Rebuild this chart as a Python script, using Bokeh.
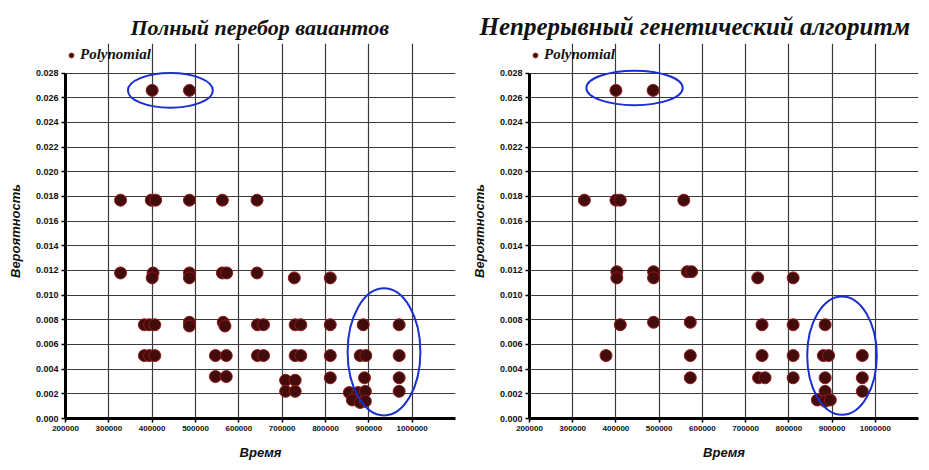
from bokeh.plotting import figure
from bokeh.layouts import row
from bokeh.models import (Range1d, FixedTicker, NumeralTickFormatter, Legend, LegendItem,
                          ColumnDataSource)
from bokeh.embed import file_html
from bokeh.resources import INLINE

# ---------------- data ----------------
titles = ["Полный перебор ваиантов", "Непрерывный генетический алгоритм"]
x_label = "Время"
y_label = "Вероятность"
series_name = "Polynomial"

x_ticks = [200000, 300000, 400000, 500000, 600000, 700000, 800000, 900000, 1000000]
x_grid = x_ticks + [1100000]
y_ticks = [0.000, 0.002, 0.004, 0.006, 0.008, 0.010, 0.012, 0.014, 0.016, 0.018,
           0.020, 0.022, 0.024, 0.026, 0.028]

# Left panel: full enumeration
left_x = [400000, 486000,
          327000, 398000, 408000, 486000, 562000, 642000,
          327000, 402000, 400000, 486000, 486000, 562000, 572000, 642000, 728000, 811000,
          382000, 394000, 406000, 486000, 486000, 564000, 568000, 643000, 657000, 730000, 743000, 811000, 887000, 970000,
          382000, 394000, 406000, 546000, 571000, 643000, 657000, 730000, 743000, 811000, 880000, 893000, 970000,
          546000, 571000, 708000, 730000, 708000, 730000, 811000, 890000, 970000,
          855000, 875000, 892000, 862000, 880000, 892000, 970000]
left_y = [0.0266, 0.0266,
          0.0177, 0.0177, 0.0177, 0.0177, 0.0177, 0.0177,
          0.0118, 0.0118, 0.0114, 0.0118, 0.0114, 0.0118, 0.0118, 0.0118, 0.0114, 0.0114,
          0.0076, 0.0076, 0.0076, 0.0078, 0.0075, 0.0078, 0.0075, 0.0076, 0.0076, 0.0076, 0.0076, 0.0076, 0.0076, 0.0076,
          0.0051, 0.0051, 0.0051, 0.0051, 0.0051, 0.0051, 0.0051, 0.0051, 0.0051, 0.0051, 0.0051, 0.0051, 0.0051,
          0.0034, 0.0034, 0.0031, 0.0031, 0.0022, 0.0022, 0.0033, 0.0033, 0.0033,
          0.0021, 0.0021, 0.0022, 0.0015, 0.0013, 0.0014, 0.0022]

# Right panel: continuous genetic algorithm
right_x = [400000, 486000,
           327000, 400000, 410000, 557000,
           402000, 402000, 487000, 487000, 565000, 575000, 728000, 810000,
           410000, 487000, 572000, 738000, 810000, 884000,
           377000, 572000, 738000, 810000, 880000, 892000, 970000,
           572000, 730000, 745000, 810000, 884000, 970000,
           884000, 970000, 866000, 884000, 896000]
right_y = [0.0266, 0.0266,
           0.0177, 0.0177, 0.0177, 0.0177,
           0.0119, 0.0114, 0.0119, 0.0114, 0.0119, 0.0119, 0.0114, 0.0114,
           0.0076, 0.0078, 0.0078, 0.0076, 0.0076, 0.0076,
           0.0051, 0.0051, 0.0051, 0.0051, 0.0051, 0.0051, 0.0051,
           0.0033, 0.0033, 0.0033, 0.0033, 0.0033, 0.0033,
           0.0022, 0.0022, 0.0015, 0.0014, 0.0015]

# highlighted regions (ellipses): centre x, centre y, width, height
left_ell_x = [442000, 935000]
left_ell_y = [0.0266, 0.0054]
left_ell_w = [196000, 168000]
left_ell_h = [0.0028, 0.0103]

right_ell_x = [443000, 923000]
right_ell_y = [0.0268, 0.0051]
right_ell_w = [223000, 161000]
right_ell_h = [0.0028, 0.0096]

# ---------------- styling ----------------
PT_FILL = "#430c0c"
PT_LINE = "#931a1a"
GRID = "#3a3a3a"
Y_TOP = 0.0304   # a little headroom above the 0.028 grid for the legend


def make_panel(title, title_size, title_offset, xs, ys, ex, ey, ew, eh,
               width, border_left, border_right):
    p = figure(width=width, height=462, output_backend="svg", toolbar_location=None,
               x_range=Range1d(200000, 1100000), y_range=Range1d(0, Y_TOP),
               min_border_left=border_left, min_border_right=border_right,
               min_border_top=43, min_border_bottom=40,
               background_fill_color="white", border_fill_color="white")
    p.title.text = title
    p.title.align = "left"
    p.title.offset = title_offset
    p.title.standoff = 8
    p.title.text_font = "Liberation Serif"
    p.title.text_font_style = "bold italic"
    p.title.text_font_size = title_size
    p.title.text_color = "#111111"

    p.outline_line_color = None

    for ax in (p.xaxis[0], p.yaxis[0]):
        ax.axis_line_width = 3
        ax.axis_line_color = "black"
        ax.major_tick_line_color = "black"
        ax.major_tick_line_width = 1.5
        ax.major_tick_out = 4
        ax.major_tick_in = 0
        ax.minor_tick_line_color = None
        ax.major_label_text_font = "Liberation Sans"
        ax.major_label_text_font_style = "bold"
        ax.major_label_text_color = "#111111"
        ax.axis_label_text_font = "Liberation Sans"
        ax.axis_label_text_font_style = "bold italic"
        ax.axis_label_text_font_size = "13px"
        ax.axis_label_text_color = "#111111"

    p.yaxis.bounds = (0, 0.028)
    p.xaxis.ticker = FixedTicker(ticks=x_ticks)
    p.yaxis.ticker = FixedTicker(ticks=y_ticks)
    p.xaxis.formatter = NumeralTickFormatter(format="0")
    p.yaxis.formatter = NumeralTickFormatter(format="0.000")
    p.xaxis.major_label_text_font_size = "8px"
    p.yaxis.major_label_text_font_size = "9px"
    p.xaxis.major_label_standoff = 3
    p.yaxis.major_label_standoff = 3
    p.xaxis.axis_label = x_label
    p.yaxis.axis_label = y_label
    p.xaxis.axis_label_standoff = 11
    p.yaxis.axis_label_standoff = 10

    p.xgrid.ticker = FixedTicker(ticks=x_grid)
    p.xgrid.bounds = (0, 0.028)
    p.ygrid.ticker = FixedTicker(ticks=y_ticks)
    p.grid.grid_line_color = GRID
    p.grid.grid_line_width = 1.2

    src = ColumnDataSource(dict(x=xs, y=ys))
    r = p.scatter("x", "y", source=src, size=12, fill_color=PT_FILL,
                  line_color=PT_LINE, line_width=1)

    esrc = ColumnDataSource(dict(x=ex, y=ey, w=ew, h=eh))
    p.ellipse("x", "y", width="w", height="h", source=esrc, fill_color=None,
              line_color="#1a2fd0", line_width=2)

    legend = Legend(items=[LegendItem(label=series_name, renderers=[r])],
                    location=(0, 355), orientation="horizontal",
                    background_fill_alpha=0, border_line_color=None,
                    padding=0, margin=0, spacing=0,
                    glyph_width=12, glyph_height=12, label_height=12,
                    label_standoff=3,
                    label_text_font="Liberation Serif",
                    label_text_font_style="bold italic",
                    label_text_font_size="15px", label_text_color="#111111")
    p.add_layout(legend, "center")
    return p


p1 = make_panel(titles[0], "22px", 65, left_x, left_y,
                left_ell_x, left_ell_y, left_ell_w, left_ell_h, 468, 65, 13)
p2 = make_panel(titles[1], "25px", -50, right_x, right_y,
                right_ell_x, right_ell_y, right_ell_w, right_ell_h, 453, 60, 3)

layout = row(p1, p2)
open("out.html", "w").write(file_html(layout, INLINE))
